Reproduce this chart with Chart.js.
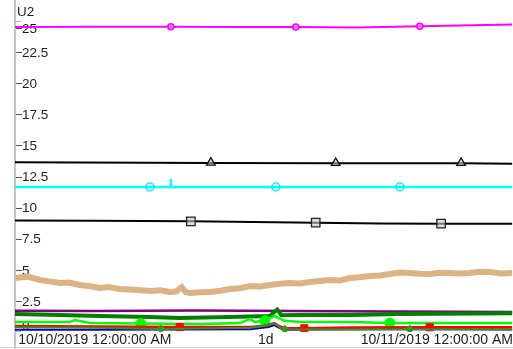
<!DOCTYPE html>
<html><head><meta charset="utf-8">
<script src="https://cdn.jsdelivr.net/npm/chart.js@4"></script>
<style>html,body{margin:0;padding:0;background:#fff;overflow:hidden}#wrap{width:513px;height:349px;position:relative}</style>
</head><body><div id="wrap"><canvas id="c"></canvas></div>
<script>
// ---------- axes ----------
const axisTitle = 'U2';
const yTickValues = [0, 2.5, 5, 7.5, 10, 12.5, 15, 17.5, 20, 22.5, 25];
const yTickLabels = ['0', '2.5', '5', '7.5', '10', '12.5', '15', '17.5', '20', '22.5', '25'];
const xTickValues = [0, 12, 24];            // hours after 10/10/2019 00:00
const xTickLabels = ['10/10/2019 12:00:00 AM', '1d', '10/11/2019 12:00:00 AM'];
const xRange = [-5.6, 29.3];
const yRange = [0, 25];

// ---------- series (x = hours, y = value) ----------
const magentaX = [-5.6, 0, 5.33, 10, 14.1, 18.4, 22.8, 29.3];
const magentaY = [24.52, 24.53, 24.54, 24.52, 24.52, 24.48, 24.57, 24.72];
const magentaMarkX = [5.33, 14.1, 22.8];
const magentaMarkY = [24.54, 24.52, 24.57];

const blackTriX = [-5.6, 8.14, 16.9, 25.7, 29.3];
const blackTriY = [13.64, 13.59, 13.56, 13.56, 13.53];
const blackTriMarkX = [8.14, 16.9, 25.7];
const blackTriMarkY = [13.62, 13.59, 13.59];

const cyanX = [-5.6, 3.86, 5.30, 5.33, 5.36, 12.7, 21.4, 29.3];
const cyanY = [11.66, 11.66, 11.66, 12.3, 11.66, 11.66, 11.66, 11.66];
const cyanMarkX = [3.86, 12.7, 21.4];
const cyanMarkY = [11.66, 11.66, 11.66];

const blackSqX = [-5.6, 0, 6.74, 15.5, 20, 24.3, 29.3];
const blackSqY = [8.96, 8.94, 8.9, 8.79, 8.73, 8.71, 8.7];
const blackSqMarkX = [6.74, 15.5, 24.3];
const blackSqMarkY = [8.9, 8.79, 8.71];

const tanX = [-5.6, -4.7, -3.86, -3.1, -2.46, -1.8, -1.05, -0.3, 0.35, 1.0, 1.75, 2.8, 3.86, 4.6, 5.26, 5.7, 6.1, 6.4, 6.67, 7.4, 8.07, 8.8, 9.47, 10.2, 10.88, 11.6, 12.28, 13.0, 13.68, 14.4, 15.09, 15.8, 16.49, 17.2, 17.9, 18.6, 19.3, 20.0, 20.7, 21.4, 22.1, 22.8, 23.5, 24.2, 24.9, 25.6, 26.3, 27.0, 27.7, 28.5, 29.3];
const tanY = [4.34, 4.45, 4.18, 4.05, 3.94, 3.98, 3.78, 3.68, 3.54, 3.62, 3.46, 3.40, 3.30, 3.36, 3.22, 3.25, 3.6, 3.2, 3.13, 3.20, 3.22, 3.32, 3.46, 3.52, 3.70, 3.66, 3.78, 3.88, 3.94, 3.90, 4.02, 4.10, 4.18, 4.15, 4.34, 4.40, 4.50, 4.55, 4.66, 4.78, 4.74, 4.68, 4.66, 4.76, 4.74, 4.70, 4.74, 4.84, 4.82, 4.70, 4.74];

const purpleX = [-5.6, 0, 7, 14, 21, 29.3];
const purpleY = [1.7, 1.68, 1.72, 1.69, 1.64, 1.6];

const greenX = [-5.6, -2.5, 0.35, 3.86, 5.96, 9.47, 12.28, 12.7, 12.8, 13.1, 14.4, 17.9, 21.4, 29.3];
const greenY = [1.45, 1.37, 1.29, 1.2, 1.13, 1.2, 1.29, 1.7, 1.8, 1.35, 1.37, 1.37, 1.45, 1.5];

const limeX = [-5.6, -1.75, -1.4, -0.35, 3.23, 7.37, 10.2, 10.9, 11.2, 11.93, 12.6, 13.3, 14.4, 17.9, 20.7, 24.9, 29.3];
const limeY = [0.8, 0.8, 0.96, 0.72, 0.68, 0.64, 0.72, 1.05, 0.8, 0.9, 1.3, 0.9, 0.8, 0.8, 0.72, 0.72, 0.72];
const limeMarkX = [3.23, 11.93, 20.7];
const limeMarkY = [0.68, 0.9, 0.72];

const redX = [-5.6, 0, 5.96, 10.9, 11.9, 12.6, 12.9, 13.3, 14.7, 18, 23.5, 29.3];
const redY = [0.48, 0.45, 0.4, 0.4, 0.5, 0.72, 0.5, 0.3, 0.3, 0.36, 0.38, 0.38];
const redMarkX = [5.96, 14.7, 23.5];
const redMarkY = [0.4, 0.3, 0.38];

const blueX = [-5.6, 0, 6, 10.9, 12.2, 12.6, 13.0, 13.5, 18, 24, 29.3];
const blueY = [0.18, 0.18, 0.2, 0.22, 0.4, 0.56, 0.3, 0.18, 0.22, 0.22, 0.2];

const oliveX = [-5.6, 0, 4.63, 10.9, 11.9, 12.6, 13.05, 13.33, 18, 22.1, 29.3];
const oliveY = [0.38, 0.35, 0.25, 0.35, 0.5, 0.72, 0.3, 0.22, 0.2, 0.22, 0.2];
const oliveMarkX = [4.63, 13.33, 22.1];
const oliveMarkY = [0.25, 0.22, 0.22];

// ---------- build ----------
const pts = (xs, ys) => xs.map((x, i) => ({x, y: ys[i]}));
function line(xs, ys, color, width) {
  return {type: 'line', data: pts(xs, ys), borderColor: color, borderWidth: width,
          pointRadius: 0, tension: 0, fill: false};
}
function marks(xs, ys, style, radius, border, bg, bw) {
  return {type: 'scatter', data: pts(xs, ys), showLine: false, pointStyle: style,
          pointRadius: radius, pointBorderColor: border, pointBackgroundColor: bg,
          pointBorderWidth: bw, borderColor: border, backgroundColor: bg};
}

const datasets = [
  marks(magentaMarkX, magentaMarkY, 'circle', 3, '#ff00ff', 'rgba(255,120,255,0.8)', 1.5),
  line(magentaX, magentaY, '#ff00ff', 2),
  marks(blackTriMarkX, blackTriMarkY, 'triangle', 5, '#111', 'rgba(200,200,200,0.6)', 1.3),
  line(blackTriX, blackTriY, '#000000', 2),
  marks(cyanMarkX, cyanMarkY, 'circle', 4, '#00e8ff', 'rgba(0,255,255,0.15)', 1.3),
  line(cyanX, cyanY, '#00ffff', 2.5),
  marks(blackSqMarkX, blackSqMarkY, 'rect', 6, '#222', 'rgba(200,200,200,0.6)', 1.3),
  line(blackSqX, blackSqY, '#000000', 2),
  marks(oliveMarkX, oliveMarkY, 'rectRot', 4, '#3d8f22', '#3d8f22', 1),
  line(oliveX, oliveY, '#3d8f22', 2),
  marks(redMarkX, redMarkY, 'rect', 5, '#ff0000', '#ff0000', 1),
  line(redX, redY, '#ff0000', 2.5),
  line(blueX, blueY, '#0000cd', 2),
  marks(limeMarkX, limeMarkY, 'circle', 5, '#00ff00', '#00ff00', 1),
  line(limeX, limeY, '#00ff00', 2.5),
  line(greenX, greenY, '#008000', 4),
  line(purpleX, purpleY, '#800080', 2.5),
  line(tanX, tanY, '#dcb384', 6)
];

const axisDecor = {
  id: 'axisDecor',
  beforeDatasetsDraw(chart) {
    const {ctx, chartArea: a, scales: {y}} = chart;
    ctx.save();
    ctx.strokeStyle = '#c4c4c4'; ctx.lineWidth = 2;
    ctx.beginPath(); ctx.moveTo(a.left, 0); ctx.lineTo(a.left, chart.height); ctx.stroke();
    ctx.lineWidth = 1; ctx.strokeStyle = '#d4d4d4';
    ctx.beginPath(); ctx.moveTo(0, chart.height - 1.5); ctx.lineTo(chart.width, chart.height - 1.5); ctx.stroke();
    ctx.strokeStyle = '#b0b0b0';
    ctx.beginPath();
    ctx.moveTo(a.left, a.top + 0.5); ctx.lineTo(a.left + 6, a.top + 0.5);
    ctx.moveTo(a.left, a.bottom - 0.5); ctx.lineTo(a.left + 6, a.bottom - 0.5);
    ctx.stroke();
    ctx.font = '13.5px "Liberation Sans", Arial, sans-serif';
    ctx.fillStyle = '#1e1e1e'; ctx.textBaseline = 'middle'; ctx.textAlign = 'left';
    ctx.strokeStyle = '#555';
    yTickValues.forEach((v, i) => {
      let py = y.getPixelForValue(v);
      py = Math.min(Math.max(py, a.top + 7), a.bottom - 7);
      ctx.beginPath(); ctx.moveTo(a.left + 1, Math.round(py) + 0.5); ctx.lineTo(a.left + 7, Math.round(py) + 0.5); ctx.stroke();
      ctx.fillText(yTickLabels[i], a.left + 7, py + 1);
    });
    ctx.fillText(axisTitle, a.left + 2, 12);
    ctx.restore();
  }
};

Chart.defaults.font.family = '"Liberation Sans", Arial, sans-serif';
new Chart(document.getElementById('c'), {
  type: 'line',
  data: {datasets},
  options: {
    responsive: true, maintainAspectRatio: false, animation: false,
    layout: {padding: {left: 15, top: 21, right: 0, bottom: 0}, autoPadding: false},
    plugins: {legend: {display: false}, tooltip: {enabled: false}},
    scales: {
      x: {type: 'linear', min: xRange[0], max: xRange[1],
          grid: {display: false, drawTicks: false, tickLength: 0}, border: {display: false},
          afterBuildTicks: s => { s.ticks = xTickValues.map(v => ({value: v})); },
          afterFit: s => { s.height = 17; },
          ticks: {padding: 0, autoSkip: false, maxRotation: 0, color: '#1e1e1e',
                  font: {size: 14}, callback: (v, i) => xTickLabels[i]}},
      y: {type: 'linear', min: yRange[0], max: yRange[1], display: false}
    }
  },
  plugins: [axisDecor]
});
</script></body></html>
